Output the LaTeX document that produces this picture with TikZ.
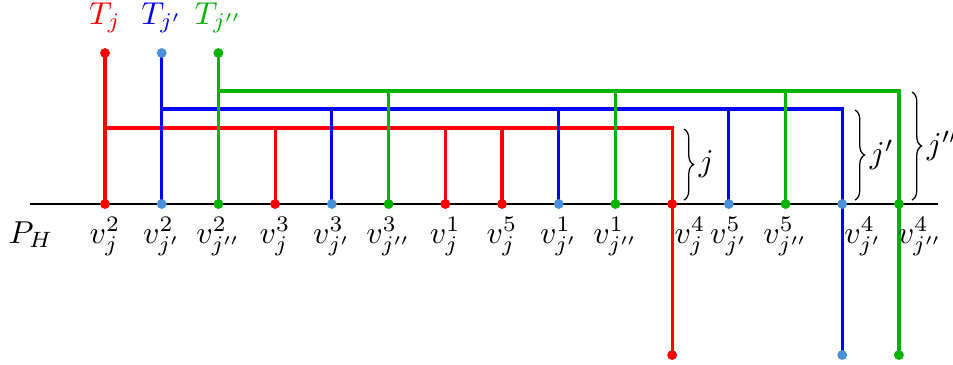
\documentclass[tikz,border=0pt]{standalone}
\usetikzlibrary{decorations.pathreplacing}
\definecolor{cr}{RGB}{255,0,0}
\definecolor{cb}{RGB}{0,0,255}
\definecolor{cg}{RGB}{0,180,0}
\definecolor{cbd}{RGB}{74,144,217}
\begin{document}
\begin{tikzpicture}[x=0.3155pt,y=-0.3155pt,
  wire/.style={line width=1pt},
  dotr/.style={circle,fill=cr,inner sep=0pt,minimum size=3.1pt},
  dotb/.style={circle,fill=cbd,inner sep=0pt,minimum size=3.1pt},
  dotg/.style={circle,fill=cg,inner sep=0pt,minimum size=3.1pt},
  vlab/.style={anchor=base,inner sep=0pt},
  brc/.style={decorate,decoration={brace,amplitude=3pt},line width=0.4pt},
  brlab/.style={anchor=west,inner sep=1pt}]
\useasboundingbox (0,0) rectangle (953,364);
% axis
\coordinate (L) at (30,204);
\coordinate (R) at (938,204);
\draw[line width=0.45pt] (L) -- (R);
% vertex coordinates
\coordinate (v0) at (105.0,204);
\coordinate (v1) at (161.7,204);
\coordinate (v2) at (218.4,204);
\coordinate (v3) at (275.1,204);
\coordinate (v4) at (331.8,204);
\coordinate (v5) at (388.6,204);
\coordinate (v6) at (445.3,204);
\coordinate (v7) at (502.0,204);
\coordinate (v8) at (558.7,204);
\coordinate (v9) at (615.4,204);
\coordinate (v10) at (672.1,204);
\coordinate (v11) at (728.8,204);
\coordinate (v12) at (785.5,204);
\coordinate (v13) at (842.2,204);
\coordinate (v14) at (898.9,204);
% top and bottom ends
\coordinate (tr) at (105.0,53);
\coordinate (tb) at (161.7,53);
\coordinate (tg) at (218.4,53);
\coordinate (br) at (672.1,355);
\coordinate (bb) at (842.2,355);
\coordinate (bg) at (898.9,355);
\coordinate (hr) at (105.0,128);
\coordinate (hb) at (161.7,109);
\coordinate (hg) at (218.4,91);
% red tree
\draw[wire,cr] (tr) -- (v0);
\draw[wire,cr] (hr) -- (hr -| v10) -- (br);
\draw[wire,cr] (hr -| v3) -- (v3);
\draw[wire,cr] (hr -| v6) -- (v6);
\draw[wire,cr] (hr -| v7) -- (v7);
% blue tree
\draw[wire,cb] (tb) -- (v1);
\draw[wire,cb] (hb) -- (hb -| v13) -- (bb);
\draw[wire,cb] (hb -| v4) -- (v4);
\draw[wire,cb] (hb -| v8) -- (v8);
\draw[wire,cb] (hb -| v11) -- (v11);
% green tree
\draw[wire,cg] (tg) -- (v2);
\draw[wire,cg] (hg) -- (hg -| v14) -- (bg);
\draw[wire,cg] (hg -| v5) -- (v5);
\draw[wire,cg] (hg -| v9) -- (v9);
\draw[wire,cg] (hg -| v12) -- (v12);
% dots
\node[dotr] (dtr) at (tr) {};
\node[dotb] (dtb) at (tb) {};
\node[dotg] (dtg) at (tg) {};
\node[dotr] (dbr) at (br) {};
\node[dotb] (dbb) at (bb) {};
\node[dotg] (dbg) at (bg) {};
\node[dotr] (d0) at (v0) {};
\node[dotb] (d1) at (v1) {};
\node[dotg] (d2) at (v2) {};
\node[dotr] (d3) at (v3) {};
\node[dotb] (d4) at (v4) {};
\node[dotg] (d5) at (v5) {};
\node[dotr] (d6) at (v6) {};
\node[dotr] (d7) at (v7) {};
\node[dotb] (d8) at (v8) {};
\node[dotg] (d9) at (v9) {};
\node[dotr] (d10) at (v10) {};
\node[dotb] (d11) at (v11) {};
\node[dotg] (d12) at (v12) {};
\node[dotb] (d13) at (v13) {};
\node[dotg] (d14) at (v14) {};
% top labels
\node[vlab,text=cr] (Tj) at (105.0,24) {$T_j$};
\node[vlab,text=cb] (Tj1) at (161.7,24) {$T_{j'}$};
\node[vlab,text=cg] (Tj2) at (218.4,24) {$T_{j''}$};
% bottom labels
\node[vlab] (PH) at (31,243) {$P_H$};
\node[vlab] (l0) at (105.0,243) {$v_j^2$};
\node[vlab] (l1) at (161.7,243) {$v_{j'}^2$};
\node[vlab] (l2) at (218.4,243) {$v_{j''}^2$};
\node[vlab] (l3) at (275.1,243) {$v_j^3$};
\node[vlab] (l4) at (331.8,243) {$v_{j'}^3$};
\node[vlab] (l5) at (388.6,243) {$v_{j''}^3$};
\node[vlab] (l6) at (445.3,243) {$v_j^1$};
\node[vlab] (l7) at (502.0,243) {$v_j^5$};
\node[vlab] (l8) at (558.7,243) {$v_{j'}^1$};
\node[vlab] (l9) at (615.4,243) {$v_{j''}^1$};
\node[vlab] (l10) at (690,243) {$v_j^4$};
\node[vlab] (l11) at (728.8,243) {$v_{j'}^5$};
\node[vlab] (l12) at (785.5,243) {$v_{j''}^5$};
\node[vlab] (l13) at (863,243) {$v_{j'}^4$};
\node[vlab] (l14) at (920,243) {$v_{j''}^4$};
% braces
\coordinate (ba1) at (684,129);
\coordinate (bz1) at (684,200);
\coordinate (ba2) at (855,110);
\coordinate (bz2) at (855,200);
\coordinate (ba3) at (912,92);
\coordinate (bz3) at (912,200);
\draw[brc] (ba1) -- (bz1) node[midway,brlab,xshift=3.5pt] (bj) {$j$};
\draw[brc] (ba2) -- (bz2) node[midway,brlab,xshift=3.5pt] (bj1) {$j'$};
\draw[brc] (ba3) -- (bz3) node[midway,brlab,xshift=3.5pt] (bj2) {$j''$};
\end{tikzpicture}
\end{document}
